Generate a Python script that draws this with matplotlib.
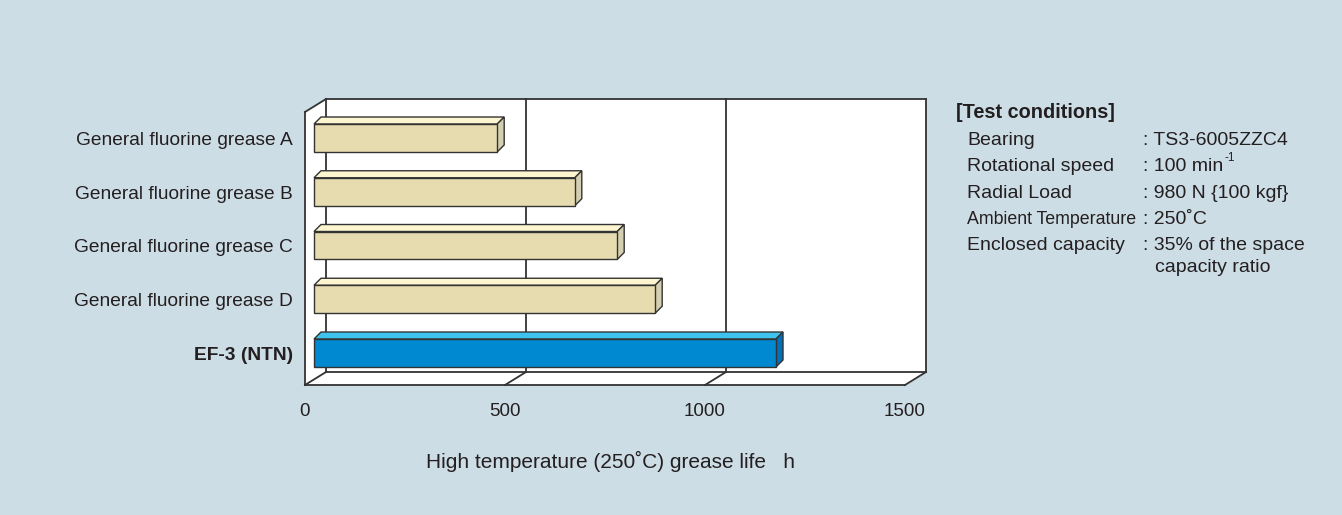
import matplotlib
matplotlib.use("Agg")
import matplotlib.pyplot as plt
import matplotlib.transforms as mtransforms
from matplotlib.patches import Polygon

plt.rcParams['font.family'] = ['Liberation Sans', 'DejaVu Sans']

###############################################################################
# Data
###############################################################################
categories = ["General fluorine grease A", "General fluorine grease B",
              "General fluorine grease C", "General fluorine grease D",
              "EF-3 (NTN)"]
life_hours = [458, 652, 758, 853, 1155]
xticks = [0, 500, 1000, 1500]
xlabel = "High temperature (250˚C) grease life   h"

cond_title = "[Test conditions]"
cond_names = ["Bearing", "Rotational speed", "Radial Load",
              "Ambient Temperature", "Enclosed capacity"]
cond_values = [": TS3-6005ZZC4", ": 100 min", ": 980 N {100 kgf}",
               ": 250˚C", ": 35% of the space"]
cond_extra = "capacity ratio"
speed_sup = "-1"

###############################################################################
# Style
###############################################################################
bg = '#cddde6'
line_c = '#333333'
text_c = '#231f20'
beige = ('#e7dbb0', '#fcf5d0', '#d3cfb0')   # front, top, side
blue = ('#0088d1', '#3ec3ef', '#0070ba')

W, H = 1342, 515
fig = plt.figure(figsize=(W / 100, H / 100), dpi=100, facecolor=bg)
ax = fig.add_axes([305 / W, 130 / H, 600 / W, 273 / H])
ax.set_xlim(0, 1500)
ax.set_ylim(-0.484, 4.595)
ax.axis('off')

ident = mtransforms.IdentityTransform()
WD = (21, 13)      # depth of the box (px)
BF = (9, 6)        # bar front face offset (px)
BD = (16, 13)      # bar back face offset (px)


def px(x, y, d=(0, 0)):
    X, Y = ax.transData.transform((x, y))
    return (X + d[0], Y + d[1])


def shift(dx, dy):
    return ax.transData + mtransforms.ScaledTranslation(dx / 100, dy / 100, fig.dpi_scale_trans)


x0, x1 = ax.get_xlim()
y0, y1 = ax.get_ylim()

# white box
box = [px(x0, y0), px(x0, y1), px(x0, y1, WD), px(x1, y1, WD),
       px(x1, y0, WD), px(x1, y0)]
ax.add_patch(Polygon(box, closed=True, transform=ident, facecolor='white',
                     edgecolor='none', zorder=1, clip_on=False))


def seg(p, q, lw=1.3):
    ax.add_line(plt.Line2D([p[0], q[0]], [p[1], q[1]], transform=ident,
                           color=line_c, lw=lw, zorder=2, clip_on=False))


seg(px(x0, y0), px(x0, y1))
seg(px(x0, y1), px(x0, y1, WD))
seg(px(x0, y0), px(x1, y0))
back = [px(x0, y0, WD), px(x0, y1, WD), px(x1, y1, WD), px(x1, y0, WD)]
for k in range(4):
    seg(back[k], back[(k + 1) % 4])
for t in xticks:
    seg(px(t, y0), px(t, y0, WD))
    if x0 < t < x1:
        seg(px(t, y0, WD), px(t, y1, WD))
    ax.text(t, y0, str(t), transform=shift(0, -31), ha='center', va='baseline',
            fontsize=13.5, color=text_c)

###############################################################################
# Bars
###############################################################################
ypos = list(range(len(categories)))[::-1]
hh = 0.26
for cat, v, y in zip(categories, life_hours, ypos):
    cols = blue if cat.startswith("EF") else beige
    ax.barh(y, v, height=2 * hh, left=0, color=cols[0], edgecolor=line_c,
            linewidth=1.0, transform=shift(*BF), zorder=4, clip_on=False)
    top = [px(0, y + hh, BF), px(v, y + hh, BF), px(v, y + hh, BD), px(0, y + hh, BD)]
    side = [px(v, y - hh, BF), px(v, y + hh, BF), px(v, y + hh, BD), px(v, y - hh, BD)]
    for poly, c in ((top, cols[1]), (side, cols[2])):
        ax.add_patch(Polygon(poly, closed=True, transform=ident, facecolor=c,
                             edgecolor=line_c, lw=1.0, zorder=3, clip_on=False))
    bold = 'bold' if cat.startswith("EF") else 'normal'
    ax.text(0, y, cat, transform=shift(-12, -1), ha='right', va='baseline',
            fontsize=13.8, fontweight=bold, color=text_c)

ax.text(750, y0, xlabel, transform=shift(5, -83), ha='center', va='baseline',
        fontsize=15, color=text_c)

###############################################################################
# Test conditions
###############################################################################
fig.text(956 / W, 1 - 118 / H, cond_title, fontsize=14.3, fontweight='bold',
         color=text_c, va='baseline')
rows_y = [145, 171, 197.5, 224, 250.5]
renderer = fig.canvas.get_renderer()
for name, val, ry in zip(cond_names, cond_values, rows_y):
    fs = 12.8 if name.startswith("Ambient") else 14
    fig.text(967 / W, 1 - ry / H, name, fontsize=fs, color=text_c, va='baseline')
    tv = fig.text(1143 / W, 1 - ry / H, val, fontsize=14, color=text_c, va='baseline')
    if val.endswith("min"):
        bb = tv.get_window_extent(renderer)
        fig.text((bb.x1 + 1) / W, 1 - (ry - 10) / H, speed_sup, fontsize=8.5,
                 color=text_c, va='baseline')
fig.text(1155 / W, 1 - 272.5 / H, cond_extra, fontsize=14, color=text_c, va='baseline')

fig.savefig("out.png", dpi=100, facecolor=bg)
